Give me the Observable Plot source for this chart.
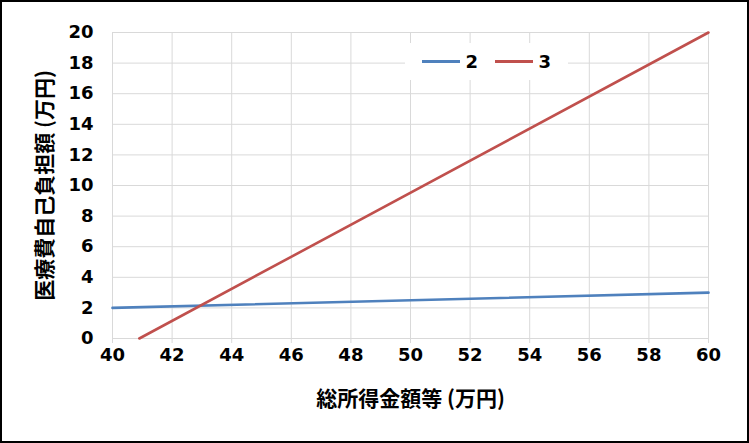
<!DOCTYPE html>
<html>
<head>
<meta charset="utf-8">
<script src="https://cdn.jsdelivr.net/npm/d3@7"></script>
<script src="https://cdn.jsdelivr.net/npm/@observablehq/plot@0.6"></script>
<style>
  body { margin: 0; background: #fff; }
  #chart { position: relative; width: 745px; height: 439px; border: 2px solid #000; background: #fff; }
  #chart svg { display: block; }
  #chart svg g[aria-label$="tick label"] { font-size: 18px !important; font-weight: bold; }
  #legend { position: absolute; left: 403px; top: 41px; width: 163px; height: 37px; background: #fff;
    display: flex; align-items: center; padding-left: 17px; box-sizing: border-box;
    font-family: "DejaVu Sans", sans-serif; font-weight: bold; font-size: 18px; color: #000; }
  .sw { width: 42px; height: 3px; margin-right: 5px; }
  .lab { margin-right: 17px; }
</style>
</head>
<body>
<div id="chart"><div id="legend"></div></div>
<script>
const xTicks = [40, 42, 44, 46, 48, 50, 52, 54, 56, 58, 60];
const yTicks = [0, 2, 4, 6, 8, 10, 12, 14, 16, 18, 20];
const seriesNames = ["2", "3"];
const seriesColors = ["#4F81BD", "#C0504D"];
const series2X = [40, 60];
const series2Y = [2, 3];
const series3X = [40.9, 60];
const series3Y = [0, 20];
const xTitle = "総所得金額等 (万円)";
const yTitle = "医療費自己負担額 (万円)";

const data = [
  ...series2X.map((x, i) => ({series: seriesNames[0], x, y: series2Y[i]})),
  ...series3X.map((x, i) => ({series: seriesNames[1], x, y: series3Y[i]}))
];

const font = "'DejaVu Sans', 'Noto Sans CJK JP', sans-serif";
const grid = "#d9d9d9";

const plot = Plot.plot({
  width: 745,
  height: 439,
  marginLeft: 110,
  marginRight: 39,
  marginTop: 30,
  marginBottom: 103,
  style: {fontFamily: font, color: "#000", background: "#fff", overflow: "visible"},
  x: {domain: [40, 60]},
  y: {domain: [0, 20]},
  color: {domain: seriesNames, range: seriesColors},
  marks: [
    Plot.gridX(xTicks, {stroke: grid, strokeOpacity: 1, strokeWidth: 1}),
    Plot.gridY(yTicks, {stroke: grid, strokeOpacity: 1, strokeWidth: 1}),
    Plot.axisX(xTicks, {tickSize: 5, tickPadding: 5, stroke: grid, fill: "#000", fontSize: 18, fontWeight: "bold", label: null}),
    Plot.axisY(yTicks, {tickSize: 0, tickPadding: 19, fill: "#000", fontSize: 18, fontWeight: "bold", label: null}),
    Plot.line(data, {x: "x", y: "y", z: "series", stroke: "series", strokeWidth: 2.6}),
    Plot.text([xTitle], {frameAnchor: "bottom", dy: 61, lineAnchor: "middle", textAnchor: "middle", fontSize: 21, fontWeight: "bold", fill: "#000", fontFamily: "'Noto Sans CJK JP', sans-serif"}),
    Plot.text([yTitle], {frameAnchor: "left", dx: -67, rotate: -90, lineAnchor: "middle", textAnchor: "middle", fontSize: 21, fontWeight: "bold", fill: "#000", fontFamily: "'Noto Sans CJK JP', sans-serif"})
  ]
});
document.getElementById("chart").insertBefore(plot, document.getElementById("legend"));

const legend = document.getElementById("legend");
seriesNames.forEach((name, i) => {
  const sw = document.createElement("div");
  sw.className = "sw";
  sw.style.background = seriesColors[i];
  const lab = document.createElement("span");
  lab.className = "lab";
  lab.textContent = name;
  legend.appendChild(sw);
  legend.appendChild(lab);
});
</script>
</body>
</html>
